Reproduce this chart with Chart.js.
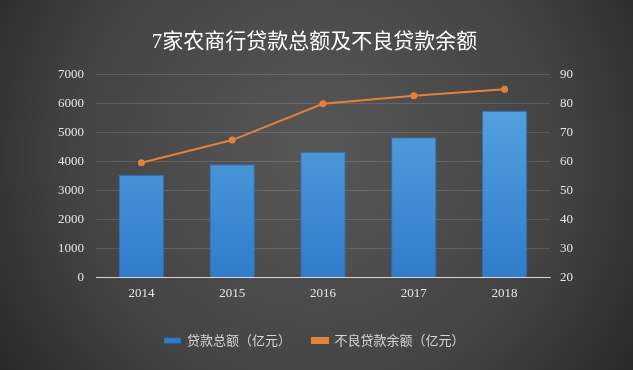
<!DOCTYPE html>
<html>
<head>
<meta charset="utf-8">
<script src="https://cdn.jsdelivr.net/npm/chart.js@4"></script>
<style>
  html, body { margin: 0; padding: 0; background: #3a3a3a; }
  #wrap { width: 633px; height: 370px; }
</style>
</head>
<body>
<div id="wrap"><canvas id="chart" width="633" height="370"></canvas></div>
<script>
const YEARS = ["2014", "2015", "2016", "2017", "2018"];
const LOANS = [3530, 3900, 4330, 4830, 5740];
const NPL = [59.5, 67.3, 79.8, 82.6, 84.8];

const SERIF = "'Liberation Serif', 'Noto Sans CJK SC', serif";
const SANS = "'Noto Sans CJK SC', sans-serif";

// dark radial backdrop
const backdrop = {
    id: "backdrop",
    beforeDraw: chart => {
        const { ctx, width, height } = chart;
        const g = ctx.createRadialGradient(width * 0.5, height * 0.42, 20, width * 0.5, height * 0.42, width * 0.62);
        g.addColorStop(0, "#565656");
        g.addColorStop(0.6, "#434343");
        g.addColorStop(1, "#272727");
        ctx.save();
        ctx.fillStyle = g;
        ctx.fillRect(0, 0, width, height);
        ctx.restore();
    }
};

const barFill = context => {
    const area = context.chart.chartArea;
    if (!area) return "#4a93d8";
    const g = context.chart.ctx.createLinearGradient(0, area.top, 0, area.bottom);
    g.addColorStop(0, "#5ba6e2");
    g.addColorStop(1, "#2f7dcb");
    return g;
};

const plain = v => String(v);

const ctx = document.getElementById("chart").getContext("2d");
const myChart = new Chart(ctx, {
    type: "bar",
    data: {
        labels: YEARS,
        datasets: [
            {
                label: "贷款总额（亿元）",
                data: LOANS,
                backgroundColor: barFill,
                borderColor: "#2b6fb4",
                borderWidth: 1,
                categoryPercentage: 1,
                barPercentage: 0.5,
                yAxisID: "y",
                order: 2
            },
            {
                type: "line",
                label: "不良贷款余额（亿元）",
                data: NPL,
                borderColor: "#e4813b",
                backgroundColor: "#e4813b",
                borderWidth: 2,
                pointRadius: 2.5,
                pointHoverRadius: 2.5,
                tension: 0,
                yAxisID: "y1",
                order: 1
            }
        ]
    },
    options: {
        responsive: false,
        animation: false,
        layout: { padding: { left: 46, right: 50, top: 0, bottom: 13 } },
        plugins: {
            title: {
                display: true,
                text: "7家农商行贷款总额及不良贷款余额",
                color: "#ffffff",
                font: { family: SERIF, size: 21, weight: "normal" },
                padding: { top: 30, bottom: 19 }
            },
            legend: {
                position: "bottom",
                labels: {
                    color: "#d6d6d6",
                    font: { family: SANS, size: 13 },
                    boxWidth: 16,
                    boxHeight: 5,
                    padding: 21,
                    sort: (a, b) => a.datasetIndex - b.datasetIndex
                }
            },
            tooltip: { enabled: false }
        },
        scales: {
            x: {
                grid: { display: false, drawTicks: false },
                border: { display: true, color: "rgba(235,235,235,0.85)", width: 1 },
                ticks: { color: "#e6e6e6", font: { family: SERIF, size: 13 }, padding: 8 },
                afterFit: scale => { scale.height += 4; }
            },
            y: {
                position: "left",
                min: 0,
                max: 7000,
                ticks: { stepSize: 1000, callback: plain, color: "#e6e6e6", font: { family: SERIF, size: 13 }, padding: 12 },
                grid: { color: "rgba(255,255,255,0.13)", drawTicks: false },
                border: { display: false }
            },
            y1: {
                position: "right",
                min: 20,
                max: 90,
                ticks: { stepSize: 10, callback: plain, color: "#e6e6e6", font: { family: SERIF, size: 13 }, padding: 10 },
                grid: { display: false, drawTicks: false },
                border: { display: false }
            }
        }
    },
    plugins: [backdrop]
});
</script>
</body>
</html>
